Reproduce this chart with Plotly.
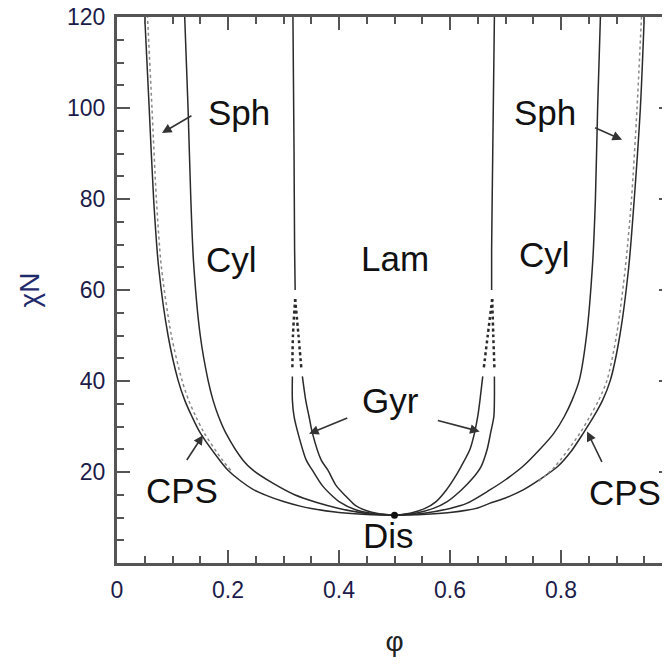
import plotly.graph_objects as go

# ---- data (phi, chiN) ----
odt_L_phi = [0.5, 0.45, 0.40, 0.35, 0.33, 0.30, 0.27, 0.245, 0.22, 0.20, 0.185, 0.150, 0.135, 0.122, 0.110, 0.092, 0.075, 0.066, 0.058, 0.050]
odt_L_chi = [10.495, 10.65, 11.1, 12.0, 12.5, 13.5, 14.8, 16.2, 18.3, 20.4, 22.6, 28.6, 32.2, 35.8, 40.2, 50, 65, 80, 100, 120]
odt_R_phi = [0.5, 0.55, 0.60, 0.65, 0.671, 0.70, 0.731, 0.76, 0.794, 0.818, 0.840, 0.859, 0.875, 0.889, 0.906, 0.922, 0.932, 0.943, 0.950]
odt_R_chi = [10.495, 10.65, 11.1, 12.1, 13.1, 14.3, 16.0, 18.2, 21.2, 24.5, 28.5, 32.2, 35.8, 40.2, 50, 65, 80, 100, 120]

cps_L_phi = [0.205, 0.19, 0.157, 0.142, 0.129, 0.117, 0.098, 0.080, 0.071, 0.063, 0.055]
cps_L_chi = [20.4, 22.6, 28.6, 32.2, 35.8, 40.2, 50, 65, 80, 100, 120]
cps_R_phi = [0.76, 0.789, 0.834, 0.852, 0.868, 0.883, 0.900, 0.916, 0.927, 0.937, 0.945]
cps_R_chi = [18.0, 21.2, 28.5, 32.2, 35.8, 40.2, 50, 65, 80, 100, 120]

sc_L_phi = [0.5, 0.45, 0.40, 0.36, 0.32, 0.28, 0.245, 0.227, 0.196, 0.183, 0.173, 0.164, 0.150, 0.138, 0.133, 0.128, 0.122]
sc_L_chi = [10.495, 10.9, 12.0, 13.3, 15.0, 17.6, 20.4, 22.6, 28.6, 32.2, 35.8, 40.2, 50, 66, 80, 100, 120]
sc_R_phi = [0.5, 0.55, 0.60, 0.63, 0.671, 0.70, 0.731, 0.762, 0.787, 0.806, 0.820, 0.833, 0.846, 0.857, 0.862, 0.866, 0.871]
sc_R_chi = [10.495, 10.9, 12.0, 13.1, 16.0, 18.3, 21.2, 25, 28.5, 32.2, 35.8, 40.2, 50, 66, 80, 100, 120]

cg_L_phi = [0.5, 0.46, 0.43, 0.40, 0.389, 0.37, 0.352, 0.341, 0.326, 0.319, 0.316, 0.316]
cg_L_chi = [10.495, 10.9, 11.7, 13.5, 14.6, 17.0, 20.4, 22.6, 28.6, 32.2, 35.8, 41.0]
gl_L_phi = [0.5, 0.47, 0.45, 0.43, 0.413, 0.395, 0.38, 0.368, 0.352, 0.346, 0.340, 0.334]
gl_L_chi = [10.495, 10.9, 11.5, 12.6, 14.6, 17.0, 20.4, 22.6, 28.6, 32.2, 35.8, 41.0]
lg_R_phi = [0.5, 0.53, 0.555, 0.575, 0.593, 0.607, 0.620, 0.636, 0.644, 0.650, 0.654, 0.659]
lg_R_chi = [10.495, 11.0, 12.0, 13.5, 16.0, 18.5, 21.2, 25, 28.5, 32.2, 35.8, 41.0]
gc_R_phi = [0.5, 0.54, 0.57, 0.595, 0.620, 0.640, 0.656, 0.667, 0.673, 0.679, 0.680, 0.680]
gc_R_chi = [10.495, 11.0, 12.0, 13.5, 16.0, 18.5, 21.2, 25, 28.5, 32.2, 35.8, 41.0]

# dotted gyroid continuation
cg_L_dot_phi = [0.316, 0.317, 0.321]
gl_L_dot_phi = [0.332, 0.327, 0.321]
lg_R_dot_phi = [0.661, 0.668, 0.676]
gc_R_dot_phi = [0.680, 0.678, 0.676]
dot_chi = [43, 50, 58]

lc_L_phi = [0.321, 0.320, 0.319, 0.317]
lc_R_phi = [0.675, 0.675, 0.677, 0.680]
lc_chi = [60, 69, 90, 120]

dis_phi = [0.5]
dis_chi = [10.495]

x_tickvals = [0, 0.2, 0.4, 0.6, 0.8, 1.0]
x_ticktext = ["0", "0.2", "0.4", "0.6", "0.8", "1"]
y_tickvals = [20, 40, 60, 80, 100, 120]
y_ticktext = ["20", "40", "60", "80", "100", "120"]

LINE = "#2a2a2a"
fig = go.Figure()

def add_line(x, y, color=LINE, width=1.5, dash="solid"):
    fig.add_trace(go.Scatter(x=x, y=y, mode="lines", line=dict(color=color, width=width, dash=dash, shape="spline", smoothing=0.8),
                             showlegend=False, hoverinfo="skip"))

for px, py in [(odt_L_phi, odt_L_chi), (odt_R_phi, odt_R_chi), (sc_L_phi, sc_L_chi), (sc_R_phi, sc_R_chi),
               (cg_L_phi, cg_L_chi), (gl_L_phi, gl_L_chi), (lg_R_phi, lg_R_chi), (gc_R_phi, gc_R_chi)]:
    add_line(px, py)
for px, py in [(cps_L_phi, cps_L_chi), (cps_R_phi, cps_R_chi)]:
    add_line(px, py, color="#8a8a8a", width=1.5, dash="dot")
for px in [cg_L_dot_phi, gl_L_dot_phi, lg_R_dot_phi, gc_R_dot_phi]:
    add_line(px, dot_chi, width=2.5, dash="dot")
add_line(lc_L_phi, lc_chi)
add_line(lc_R_phi, lc_chi)

fig.add_trace(go.Scatter(x=dis_phi, y=dis_chi, mode="markers", marker=dict(color="#111", size=7),
                         showlegend=False, hoverinfo="skip"))

TXT = dict(family="Liberation Sans, Arial, sans-serif", size=35, color="#111")
labels = [("Sph", 0.2196, 99.1), ("Sph", 0.7705, 99.1), ("Cyl", 0.207, 66.6), ("Lam", 0.5005, 67.0),
          ("Cyl", 0.7705, 67.7), ("Gyr", 0.493, 35.8), ("CPS", 0.118, 16.0), ("CPS", 0.916, 15.6),
          ("Dis", 0.4897, 6.15)]
for t, x, y in labels:
    fig.add_annotation(x=x, y=y, text=t, showarrow=False, font=TXT, xanchor="center", yanchor="middle")

arrows = [((0.1368, 98.5), (0.081, 94.5)), ((0.8587, 95.8), (0.910, 93.0)),
          ((0.124, 22.3), (0.155, 28.1)), ((0.875, 21.9), (0.847, 28.9)),
          ((0.4176, 32.0), (0.346, 28.4)), ((0.5755, 31.4), (0.6535, 28.9))]
for (tx, ty), (hx, hy) in arrows:
    fig.add_annotation(x=hx, y=hy, ax=tx, ay=ty, xref="x", yref="y", axref="x", ayref="y", text="",
                       showarrow=True, arrowhead=2, arrowsize=1.2, arrowwidth=1.6, arrowcolor="#333")

TICKF = dict(family="Liberation Sans Narrow, Arial Narrow, Liberation Sans, Arial", size=23, color="#1c1c4a")

# page body has an 8 px default margin; margins below compensate for it
fig.update_layout(
    width=670, height=664, plot_bgcolor="white", paper_bgcolor="white",
    margin=dict(l=109, r=6, t=9, b=109, autoexpand=False),
    xaxis=dict(range=[0, 1.0], tickvals=x_tickvals, ticktext=x_ticktext, ticks="inside", ticklen=13, tickwidth=2,
               tickcolor="#555", showline=True, linecolor="#555", linewidth=3, mirror="allticks", showgrid=False,
               zeroline=False, tickfont=TICKF, ticklabelstandoff=4, automargin=False, ticklabeloverflow="allow",
               minor=dict(dtick=0.05, tick0=0, ticks="inside", ticklen=7, tickwidth=2, tickcolor="#555", showgrid=False),
               title=dict(text="φ", font=dict(family="Liberation Sans, Arial", size=28, color="#222"), standoff=30)),
    yaxis=dict(range=[0, 120], tickvals=y_tickvals, ticktext=y_ticktext, ticks="inside", ticklen=13, tickwidth=2,
               tickcolor="#555", showline=True, linecolor="#555", linewidth=3, mirror="allticks", showgrid=False,
               zeroline=False, tickfont=TICKF, ticklabelstandoff=4, automargin=False, ticklabeloverflow="allow",
               minor=dict(dtick=5, tick0=0, ticks="inside", ticklen=7, tickwidth=2, tickcolor="#555", showgrid=False),
               title=dict(text="χN", font=dict(family="Liberation Sans, Arial", size=28, color="#1f2a6a"), standoff=20)),
)

fig.write_html("out.html")
